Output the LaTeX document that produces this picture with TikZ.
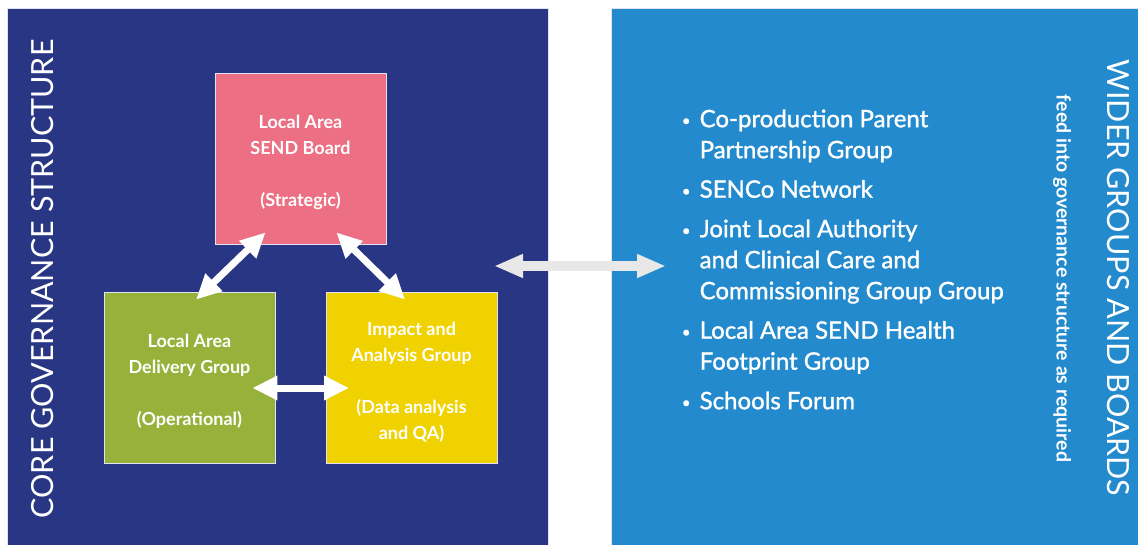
\documentclass[tikz,border=0pt]{standalone}
\usepackage{fontspec}
\setmainfont{Lato}
\newfontfamily\listfont[FakeBold=1.3]{Lato}
\usetikzlibrary{arrows.meta}
\definecolor{navy}{RGB}{41,54,131}
\definecolor{sky}{RGB}{35,138,205}
\definecolor{pinkbox}{RGB}{236,111,131}
\definecolor{greenbox}{RGB}{150,178,59}
\definecolor{yellowbox}{RGB}{240,210,0}
\definecolor{arrowgrey}{RGB}{232,232,232}
\definecolor{edge}{RGB}{225,228,240}
\newcommand{\topgap}{\rule{0pt}{22pt}}
\newcommand{\dotmark}{\makebox[0pt]{\fontsize{15}{15}\selectfont\raisebox{1.5pt}{\textbullet}}}
\begin{document}
\begin{tikzpicture}[x=1pt,y=-1pt,
  panel/.style={inner sep=0pt, outer sep=0pt, draw=edge, line width=0.6pt},
  groupbox/.style={draw=edge, line width=0.8pt, minimum width=171pt, minimum height=171pt,
    inner sep=0pt, text=white, align=center, font=\bfseries\fontsize{18}{26}\selectfont},
  link/.style={draw=white, line width=7pt, {Triangle[width=23pt,length=25pt]}-{Triangle[width=23pt,length=25pt]}},
  feedlink/.style={draw=arrowgrey, line width=10pt, {Triangle[width=22pt,length=29pt]}-{Triangle[width=22pt,length=29pt]}},
  title/.style={text=white, inner sep=0pt, font=\fontsize{30.5}{31}\selectfont},
  listtext/.style={text=white, inner sep=0pt, anchor=north west, font=\listfont\fontsize{24}{31}\selectfont}]
\path[use as bounding box] (0,0) rectangle (1138,545);
\fill[white] (0,0) rectangle (1138,545);

% panels
\node[panel, fill=navy, minimum width=541pt, minimum height=537pt] (core) at (277.5,276.5) {};
\node[panel, fill=sky, minimum width=527pt, minimum height=537pt] (wider) at (874.5,276.5) {};

% titles
\node[title, rotate=90] (coretitle) at (43,279) {CORE GOVERNANCE STRUCTURE};
\node[title, rotate=-90] (widertitle) at (1118,278) {WIDER GROUPS AND BOARDS};
\node[text=white, inner sep=0pt, rotate=-90, font=\bfseries\fontsize{19.5}{20}\selectfont] (feed) at (1062,278.5) {feed into governance structure as required};

% group boxes
\node[groupbox, fill=pinkbox] (board) at (300.5,158.5) {\topgap Local Area\\SEND Board\\[26pt](Strategic)};
\node[groupbox, fill=greenbox] (delivery) at (189.5,377.5) {\topgap Local Area\\Delivery Group\\[26pt](Operational)};
\node[groupbox, fill=yellowbox] (impact) at (411.5,377.5) {\topgap Impact and\\Analysis Group\\[26pt](Data analysis\\and QA)};

% connector end points
\coordinate (b1) at ([shift={(51,-12)}]board.south west);
\coordinate (b2) at ([shift={(-50,-12)}]board.south east);
\coordinate (d1) at ([shift={(6.5,8)}]delivery.north);
\coordinate (d2) at ([shift={(-23,10.5)}]delivery.east);
\coordinate (i1) at ([shift={(-6.5,8)}]impact.north);
\coordinate (i2) at ([shift={(23.5,10.5)}]impact.west);
\coordinate (ga) at (494,266);
\coordinate (gb) at (666,266);

\draw[link] (b1) -- (d1);
\draw[link] (b2) -- (i1);
\draw[link] (d2) -- (i2);
\draw[feedlink] (ga) -- (gb);

% list
\node[listtext] (list) at (686,105.3) {\begin{tabular}{@{}c@{\hspace{13.5pt}}l@{}}
\dotmark & Co-production Parent\\
 & Partnership Group\\[8.5pt]
\dotmark & SENCo Network\\[8.5pt]
\dotmark & Joint Local Authority\\
 & and Clinical Care and\\
 & Commissioning Group Group\\[8.5pt]
\dotmark & Local Area SEND Health\\
 & Footprint Group\\[8.5pt]
\dotmark & Schools Forum
\end{tabular}};
\end{tikzpicture}
\end{document}
